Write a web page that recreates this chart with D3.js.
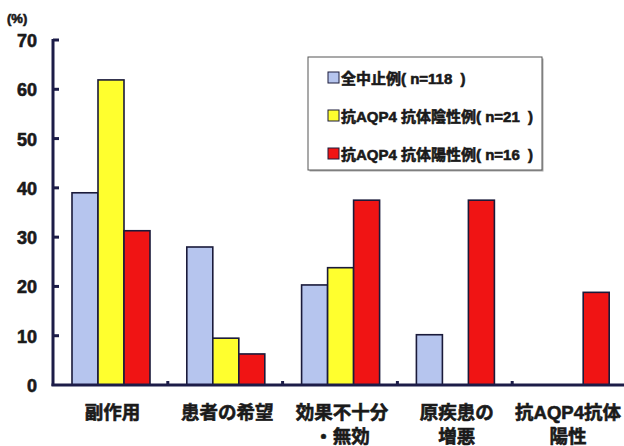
<!DOCTYPE html>
<html>
<head>
<meta charset="utf-8">
<script src="https://cdn.jsdelivr.net/npm/d3@7"></script>
<style>
  body { margin: 0; background: #fff; }
  text { font-family: 'Liberation Sans', 'Noto Sans CJK JP', sans-serif; font-weight: bold; fill: #1a1a1a;
         stroke: #1a1a1a; stroke-width: 0.6px; }
</style>
</head>
<body>
<div class="canvas"></div>
<script>
'use strict';

// categories (lines of each label)
const categories = [
  ['副作用'],
  ['患者の希望'],
  ['効果不十分', '・無効'],
  ['原疾患の', '増悪'],
  ['抗AQP4抗体', '陽性']
];
const seriesNames = ['全中止例( n=118\u00a0\u00a0)', '抗AQP4 抗体陰性例( n=21\u00a0\u00a0)', '抗AQP4 抗体陽性例( n=16\u00a0\u00a0)'];
const allStopped = [39.0, 28.0, 20.3, 10.2, 0];
const aqp4Negative = [61.9, 9.5, 23.8, 0, 0];
const aqp4Positive = [31.3, 6.3, 37.5, 37.5, 18.8];
const yTicks = [0, 10, 20, 30, 40, 50, 60, 70];

const colors = ['#b6c5ee', '#ffff2e', '#f01414'];
const series = [allStopped, aqp4Negative, aqp4Positive];

const svg = d3
  .select('.canvas')
  .append('svg')
  .attr('width', 624)
  .attr('height', 446);

const axisX = 53;
const baseY = 385;

const y = d3.scaleLinear().domain([0, 70]).range([baseY, 40]);
const x = d3.scaleBand().domain(d3.range(categories.length)).range([axisX, 627]);
const inner = d3.scaleBand().domain(d3.range(series.length)).range([19, 19 + 78]);

const axisColor = '#1c1c48';

// bars
series.forEach((vals, s) => {
  svg.append('g')
    .selectAll('rect')
    .data(vals.map((v, i) => ({ v, i })).filter(d => d.v > 0))
    .enter()
    .append('rect')
    .attr('x', d => x(d.i) + inner(s))
    .attr('y', d => y(d.v))
    .attr('width', inner.bandwidth())
    .attr('height', d => baseY - y(d.v))
    .attr('fill', colors[s])
    .attr('stroke', '#1a1a3a')
    .attr('stroke-width', 1.6);
});

// y axis
const yAxis = d3.axisLeft(y).tickValues(yTicks).tickSize(0).tickPadding(16);
const yAxisGroup = svg.append('g').attr('transform', `translate(${axisX},0)`).call(yAxis);
yAxisGroup.select('.domain').remove();
yAxisGroup.selectAll('text').style('font-size', '18px').attr('fill', '#1a1a1a').attr('dy', '0.36em');
svg.append('line')
  .attr('x1', axisX).attr('x2', axisX)
  .attr('y1', y(70) - 1).attr('y2', baseY + 1)
  .attr('stroke', axisColor).attr('stroke-width', 3);
svg.append('g').selectAll('line').data(yTicks.filter(t => t > 0)).enter()
  .append('line')
  .attr('x1', axisX).attr('x2', axisX + 6)
  .attr('y1', d => y(d)).attr('y2', d => y(d))
  .attr('stroke', axisColor).attr('stroke-width', 3);

// x axis baseline and boundary ticks
svg.append('line')
  .attr('x1', axisX - 1.5).attr('x2', 624)
  .attr('y1', baseY).attr('y2', baseY)
  .attr('stroke', axisColor).attr('stroke-width', 3);
svg.append('g').selectAll('line').data(d3.range(1, categories.length + 1)).enter()
  .append('line')
  .attr('x1', d => x(0) + d * x.step()).attr('x2', d => x(0) + d * x.step())
  .attr('y1', baseY).attr('y2', baseY - 4)
  .attr('stroke', axisColor).attr('stroke-width', 3);

// category labels
const labels = svg.append('g').selectAll('text').data(categories).enter()
  .append('text')
  .attr('text-anchor', 'middle')
  .style('font-size', '18.5px')
  .attr('x', (d, i) => Math.min(x(i) + x.bandwidth() / 2 + 2, 568))
  .attr('y', 419);
labels.selectAll('tspan').data(d => d).enter()
  .append('tspan')
  .attr('x', function () { return d3.select(this.parentNode).attr('x'); })
  .attr('dy', (d, j) => j === 0 ? 0 : 24)
  .text(d => d);

// (%) unit
svg.append('text').attr('x', 7).attr('y', 23).style('font-size', '13px').text('(%)');

// legend
const legend = svg.append('g').attr('transform', 'translate(308,57)');
legend.append('rect')
  .attr('x', 1.5).attr('y', 1.5).attr('width', 234).attr('height', 113)
  .attr('fill', '#aaa');
legend.append('rect')
  .attr('width', 234).attr('height', 113)
  .attr('fill', '#fff').attr('stroke', '#555').attr('stroke-width', 1);
const rows = legend.selectAll('g.row').data(seriesNames).enter()
  .append('g').attr('class', 'row')
  .attr('transform', (d, i) => `translate(20,${21 + i * 38})`);
rows.append('rect')
  .attr('x', 0).attr('y', -6).attr('width', 11).attr('height', 11)
  .attr('fill', (d, i) => colors[i])
  .attr('stroke', '#1a1a3a').attr('stroke-width', 1);
rows.append('text')
  .attr('x', 13).attr('y', 6)
  .style('font-size', '15px')
  .text(d => d);
</script>
</body>
</html>
